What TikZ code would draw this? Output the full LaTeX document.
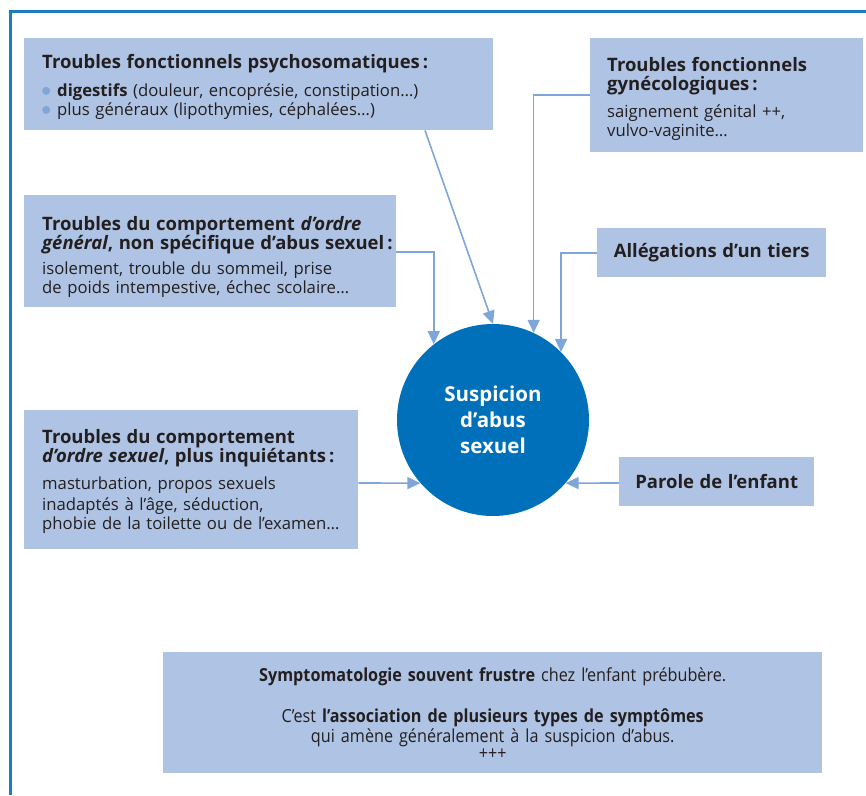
\documentclass[tikz,border=0pt]{standalone}
\usepackage{fontspec}
\setmainfont{Open Sans}
\newfontfamily\condfont{Open Sans}[FakeStretch=0.9]
\usetikzlibrary{arrows.meta,calc}
\definecolor{boxblue}{HTML}{AFC4E4}
\definecolor{arrblue}{HTML}{7FA6D9}
\definecolor{circblue}{HTML}{0070BA}
\definecolor{frameblue}{HTML}{1A7CC8}
\definecolor{txt}{HTML}{231F20}
\newcommand{\bul}{\tikz[baseline=-0.65ex]\fill[arrblue] (0,0) circle (4pt);\hspace{7pt}}
\newcommand{\ttl}{\bfseries\fontsize{18.5}{20}\selectfont}
\newcommand{\bdy}[1]{\fontsize{16.7}{#1}\selectfont}
\newcommand{\up}[1]{\rule{0pt}{#1}}
\tikzset{
  box/.style={fill=boxblue, anchor=north west, inner xsep=18pt, inner ysep=0pt, align=left, text=txt,
    font=\fontsize{16.7}{19}\selectfont},
  arr/.style={draw=arrblue, line width=1.6pt, -{Triangle[length=13pt,width=12pt]}},
}
\begin{document}
\begin{tikzpicture}[x=1pt,y=-1pt]
\useasboundingbox (0,0) rectangle (866,795);
\draw[frameblue, line width=3pt] (10,795) -- (10,11) -- (866,11);

\node[box, text width=433pt, minimum height=92pt] (b1) at (24,38)
 {{\ttl \up{20pt}\mbox{Troubles fonctionnels psychosomatiques\,:}}\\[8pt]
  \bdy{20}\bul{\bfseries digestifs} (douleur, encoprésie, constipation…)\\
  \bul plus généraux (lipothymies, céphalées…)};

\node[box, inner xsep=17pt, text width=239pt, minimum height=114pt] (b2) at (590,38)
 {{\ttl\fontsize{18.5}{21}\selectfont \up{21pt}Troubles fonctionnels\\ gynécologiques\,:}\\[8pt]
  saignement génital ++,\\ vulvo-vaginite…};

\node[box, text width=336pt, minimum height=112pt] (b3) at (24,195)
 {{\ttl \up{25pt}\mbox{Troubles du comportement \textit{d’ordre}}\\ \mbox{\textit{général}, non spécifique d’abus sexuel\,:}}\\[6pt]
  \mbox{isolement, trouble du sommeil, prise}\\ \mbox{de poids intempestive, échec scolaire…}};

\node[box, inner xsep=0pt, text width=229pt, align=center, minimum height=49pt] (b4) at (597,228)
 {\ttl Allégations d’un tiers};

\node[box, text width=298pt, minimum height=139pt] (b5) at (24,410)
 {{\ttl \up{18pt}\mbox{Troubles du comportement}\\ \mbox{\textit{d’ordre sexuel}, plus inquiétants\,:}}\\[5pt]
  \bdy{21.5}\mbox{masturbation, propos sexuels}\\ \mbox{inadaptés à l’âge, séduction,}\\ \mbox{phobie de la toilette ou de l’examen…}};

\node[box, inner xsep=0pt, text width=195pt, align=center, minimum height=49pt] (b6) at (619,457)
 {\ttl Parole de l’enfant};

\node[box, inner xsep=0pt, text width=659pt, align=center, minimum height=121pt,
      font=\condfont\fontsize{18}{17.5}\selectfont] (b7) at (163,652)
 {\up{16pt}{\bfseries Symptomatologie souvent frustre} chez l’enfant prébubère.\\[22pt]
  C’est {\bfseries l’association de plusieurs types de symptômes}\\
  qui amène généralement à la suspicion d’abus.\\ +++};

\node[circle, fill=circblue, minimum size=192pt, inner sep=0pt, text=white, align=center,
      font=\bfseries\fontsize{20.5}{26}\selectfont] (c) at (493,420)
 {Suspicion\\ d’abus\\ sexuel};

\draw[arr] ([xshift=401pt]b1.south west) -- (c.north);
\draw[arr] ([yshift=-57pt]b2.north west) -| (c.65.4);
\draw[arr] ([yshift=-25pt]b4.north west) -| (c.45.7);
\draw[arr] ([yshift=-57pt]b3.north east) -| (c.128.7);
\draw[arr] ([yshift=-73pt]b5.north east) -- (c.221);
\draw[arr] ([yshift=-26pt]b6.north west) -- (c.-41);
\end{tikzpicture}
\end{document}
